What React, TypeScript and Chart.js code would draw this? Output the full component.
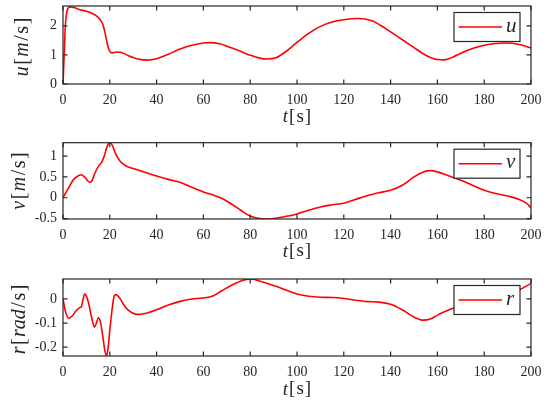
import { useEffect, useRef } from 'react';
import { Chart, registerables } from 'chart.js';

Chart.register(...registerables);

// ---------- data ----------
const X_TICKS = [0, 20, 40, 60, 80, 100, 120, 140, 160, 180, 200];

const U_T = [0, 0.5, 1, 1.5, 2, 3, 5, 7, 10, 12, 14, 16, 17, 18, 19, 20, 21, 23, 25, 28, 32, 36, 40, 45, 50, 55, 60, 63, 67, 70, 75, 80, 84, 87, 91, 95, 100, 105, 110, 115, 120, 126, 132, 136, 140, 145, 150, 155, 160, 163, 167, 170, 175, 180, 185, 189, 195, 200];
const U_VAL = [0, 1.0, 2.0, 2.4, 2.58, 2.65, 2.62, 2.56, 2.5, 2.44, 2.36, 2.2, 2.05, 1.75, 1.35, 1.12, 1.07, 1.1, 1.08, 0.97, 0.86, 0.82, 0.87, 1.02, 1.2, 1.33, 1.41, 1.42, 1.38, 1.3, 1.15, 0.99, 0.89, 0.86, 0.9, 1.1, 1.43, 1.74, 1.98, 2.13, 2.21, 2.25, 2.17, 2.0, 1.79, 1.52, 1.25, 0.99, 0.84, 0.83, 0.94, 1.06, 1.22, 1.33, 1.39, 1.41, 1.36, 1.24];
const U_TICKS = [0, 1, 2];

const V_T = [0, 2.3, 4.4, 6, 7.7, 9.5, 11.3, 12.3, 13.7, 15, 16.5, 17.5, 19, 20.2, 21.5, 22.5, 24.5, 27, 30, 35, 40, 45, 50, 55, 60, 65, 68, 72, 76, 80, 84, 88, 92, 96, 100, 105, 110, 115, 120, 125, 130, 135, 140, 145, 150, 154, 157, 160, 165, 170, 175, 180, 185, 190, 195, 198, 200];
const V_VAL = [0, 0.23, 0.43, 0.51, 0.55, 0.48, 0.37, 0.4, 0.6, 0.74, 0.85, 0.98, 1.25, 1.32, 1.2, 1.05, 0.87, 0.76, 0.7, 0.61, 0.52, 0.44, 0.37, 0.25, 0.14, 0.05, -0.02, -0.15, -0.3, -0.44, -0.5, -0.51, -0.48, -0.44, -0.39, -0.3, -0.22, -0.17, -0.13, -0.04, 0.05, 0.12, 0.18, 0.3, 0.5, 0.62, 0.65, 0.62, 0.52, 0.42, 0.3, 0.18, 0.1, 0.04, -0.04, -0.13, -0.24];
const V_TICKS = [-0.5, 0, 0.5, 1];

const R_T = [0, 1, 2.5, 4, 5.5, 7.3, 7.8, 8.5, 9.2, 10, 11, 12.3, 13.4, 14.3, 15.1, 16, 17, 17.9, 18.6, 19.3, 20.1, 20.9, 21.6, 22.3, 23.3, 24.5, 26, 28, 31, 33, 36, 40, 45, 50, 55, 60, 64, 68, 72, 76, 80, 84, 88, 91, 95, 100, 105, 110, 115, 120, 125, 130, 135, 140, 145, 150, 154, 157, 160, 165, 170, 175, 180, 185, 190, 195, 200];
const R_VAL = [0, -0.05, -0.08, -0.07, -0.05, -0.035, -0.033, -0.005, 0.02, 0.012, -0.02, -0.08, -0.117, -0.1, -0.078, -0.095, -0.155, -0.215, -0.237, -0.2, -0.12, -0.05, 0, 0.018, 0.014, 0, -0.025, -0.047, -0.063, -0.064, -0.058, -0.045, -0.025, -0.01, 0, 0.004, 0.012, 0.035, 0.057, 0.075, 0.083, 0.075, 0.062, 0.053, 0.038, 0.021, 0.011, 0.007, 0.006, 0.002, -0.005, -0.011, -0.013, -0.022, -0.045, -0.075, -0.088, -0.083, -0.067, -0.045, -0.027, -0.012, 0, 0.01, 0.022, 0.038, 0.065];
const R_TICKS = [-0.2, -0.1, 0];

// ---------- style ----------
const FONT = '"Liberation Serif", "Times New Roman", serif';
const AXIS_COLOR = '#262626';
const LINE_COLOR = '#ff0000';
const PLOT_LEFT = 63;
const PLOT_RIGHT = 531;
const W = 550;

type Seg = [string, boolean];

const XLABEL: Seg[] = [['t', true], ['[', false], ['s', false], [']', false]];

interface PanelCfg {
  name: string;
  t: number[];
  v: number[];
  yMin: number;
  yMax: number;
  yTicks: number[];
  ylabel: Seg[];
  ylabelX: number;
  ylabelY: number;
  xlabelY: number;
  top: number;
  height: number;
  plotTop: number;
  plotBottom: number;
}

const PANELS: PanelCfg[] = [
  {
    name: 'u', t: U_T, v: U_VAL, yMin: 0, yMax: 2.68, yTicks: U_TICKS,
    ylabel: [['u', true], ['[', false], ['m', true], ['/', false], ['s', false], [']', false]],
    ylabelX: 23, ylabelY: 47, xlabelY: 117,
    top: 0, height: 137, plotTop: 6, plotBottom: 84,
  },
  {
    name: 'v', t: V_T, v: V_VAL, yMin: -0.51, yMax: 1.32, yTicks: V_TICKS,
    ylabel: [['v', true], ['[', false], ['m', true], ['/', false], ['s', false], [']', false]],
    ylabelX: 20, ylabelY: 44, xlabelY: 114.5,
    top: 137, height: 133, plotTop: 5.7, plotBottom: 82,
  },
  {
    name: 'r', t: R_T, v: R_VAL, yMin: -0.237, yMax: 0.083, yTicks: R_TICKS,
    ylabel: [['r', true], ['[', false], ['rad', true], ['/', false], ['s', false], [']', false]],
    ylabelX: 20, ylabelY: 49.5, xlabelY: 119.5,
    top: 270, height: 140, plotTop: 9, plotBottom: 86,
  },
];

function drawSegs(ctx: CanvasRenderingContext2D, segs: Seg[], size: number, cx: number, cy: number, rotate: boolean, gap: number) {
  ctx.save();
  ctx.translate(cx, cy);
  if (rotate) ctx.rotate(-Math.PI / 2);
  ctx.textBaseline = 'middle';
  ctx.textAlign = 'left';
  ctx.fillStyle = AXIS_COLOR;
  const fonts = segs.map(([, it]) => `${it ? 'italic ' : ''}${size}px ${FONT}`);
  const widths = segs.map(([t], i) => {
    ctx.font = fonts[i];
    return ctx.measureText(t).width;
  });
  const total = widths.reduce((a, b) => a + b, 0) + gap * (segs.length - 1);
  let x = -total / 2;
  segs.forEach(([t], i) => {
    ctx.font = fonts[i];
    ctx.fillText(t, x, 0);
    x += widths[i] + gap;
  });
  ctx.restore();
}

function Panel({ cfg }: { cfg: PanelCfg }) {
  const ref = useRef<HTMLCanvasElement | null>(null);

  useEffect(() => {
    const canvas = ref.current;
    if (!canvas) return;

    const decor = {
      id: 'decor',
      afterDatasetsDraw(chart: any) {
        const ctx: CanvasRenderingContext2D = chart.ctx;
        const a = chart.chartArea;
        const xs = chart.scales.x;
        const ys = chart.scales.y;
        ctx.save();
        ctx.strokeStyle = AXIS_COLOR;
        ctx.lineWidth = 1.2;
        ctx.beginPath();
        const tl = 4.5;
        X_TICKS.forEach((v) => {
          const px = xs.getPixelForValue(v);
          ctx.moveTo(px, a.bottom);
          ctx.lineTo(px, a.bottom - tl);
          ctx.moveTo(px, a.top);
          ctx.lineTo(px, a.top + tl);
        });
        cfg.yTicks.forEach((v) => {
          const py = ys.getPixelForValue(v);
          ctx.moveTo(a.left, py);
          ctx.lineTo(a.left + tl, py);
          ctx.moveTo(a.right, py);
          ctx.lineTo(a.right - tl, py);
        });
        ctx.stroke();
        ctx.strokeRect(a.left, a.top, a.right - a.left, a.bottom - a.top);

        // legend
        const lw = 66;
        const lh = 29;
        const lx = a.right - 11 - lw;
        const ly = a.top + 6.5;
        ctx.fillStyle = '#ffffff';
        ctx.fillRect(lx, ly, lw, lh);
        ctx.strokeStyle = AXIS_COLOR;
        ctx.lineWidth = 1.2;
        ctx.strokeRect(lx, ly, lw, lh);
        ctx.strokeStyle = LINE_COLOR;
        ctx.lineWidth = 1.6;
        ctx.beginPath();
        ctx.moveTo(lx + 4.5, ly + lh / 2);
        ctx.lineTo(lx + 48, ly + lh / 2);
        ctx.stroke();
        ctx.fillStyle = AXIS_COLOR;
        ctx.font = `italic 21px ${FONT}`;
        ctx.textBaseline = 'middle';
        ctx.textAlign = 'left';
        ctx.fillText(chart.data.datasets[0].label, lx + 52, ly + lh / 2 - 1);
        ctx.restore();

        // axis labels
        drawSegs(ctx, cfg.ylabel, 20, cfg.ylabelX, cfg.ylabelY, true, 1.5);
        drawSegs(ctx, XLABEL, 19, (a.left + a.right) / 2, cfg.xlabelY, false, 1);
      },
    };

    const tickFont = { family: FONT, size: 14 };

    const chart = new Chart(canvas, {
      type: 'line',
      data: {
        datasets: [
          {
            label: cfg.name,
            data: cfg.t.map((t, i) => ({ x: t, y: cfg.v[i] })),
            borderColor: LINE_COLOR,
            borderWidth: 1.6,
            pointRadius: 0,
            fill: false,
            cubicInterpolationMode: 'monotone',
          },
        ],
      },
      options: {
        responsive: false,
        animation: false,
        events: [],
        layout: { padding: { top: cfg.plotTop, right: W - PLOT_RIGHT, left: 0, bottom: 0 } },
        plugins: { legend: { display: false }, tooltip: { enabled: false } },
        scales: {
          x: {
            type: 'linear',
            min: 0,
            max: 200,
            grid: { display: false, drawTicks: false },
            border: { display: false },
            ticks: {
              font: tickFont,
              color: AXIS_COLOR,
              padding: 8,
              maxRotation: 0,
              autoSkip: false,
              callback: (v: any) => String(v),
            },
            afterBuildTicks: (s: any) => {
              s.ticks = X_TICKS.map((v) => ({ value: v }));
            },
            afterFit: (s: any) => {
              s.height = cfg.height - cfg.plotBottom;
              s.paddingLeft = 0;
              s.paddingRight = 0;
            },
          },
          y: {
            type: 'linear',
            min: cfg.yMin,
            max: cfg.yMax,
            grid: { display: false, drawTicks: false },
            border: { display: false },
            ticks: {
              font: tickFont,
              color: AXIS_COLOR,
              padding: 6,
              autoSkip: false,
              callback: (v: any) => String(v),
            },
            afterBuildTicks: (s: any) => {
              s.ticks = cfg.yTicks.map((v) => ({ value: v }));
            },
            afterFit: (s: any) => {
              s.width = PLOT_LEFT;
              s.paddingTop = 0;
              s.paddingBottom = 0;
            },
          },
        },
      },
      plugins: [decor],
    } as any);

    return () => chart.destroy();
  }, [cfg]);

  return (
    <canvas
      ref={ref}
      width={W}
      height={cfg.height}
      style={{ position: 'absolute', left: 0, top: cfg.top, width: W, height: cfg.height }}
    />
  );
}

export default function App() {
  return (
    <div style={{ position: 'absolute', left: 0, top: 0, width: W, height: 410, background: '#ffffff' }}>
      {PANELS.map((p) => (
        <Panel key={p.name} cfg={p} />
      ))}
    </div>
  );
}
